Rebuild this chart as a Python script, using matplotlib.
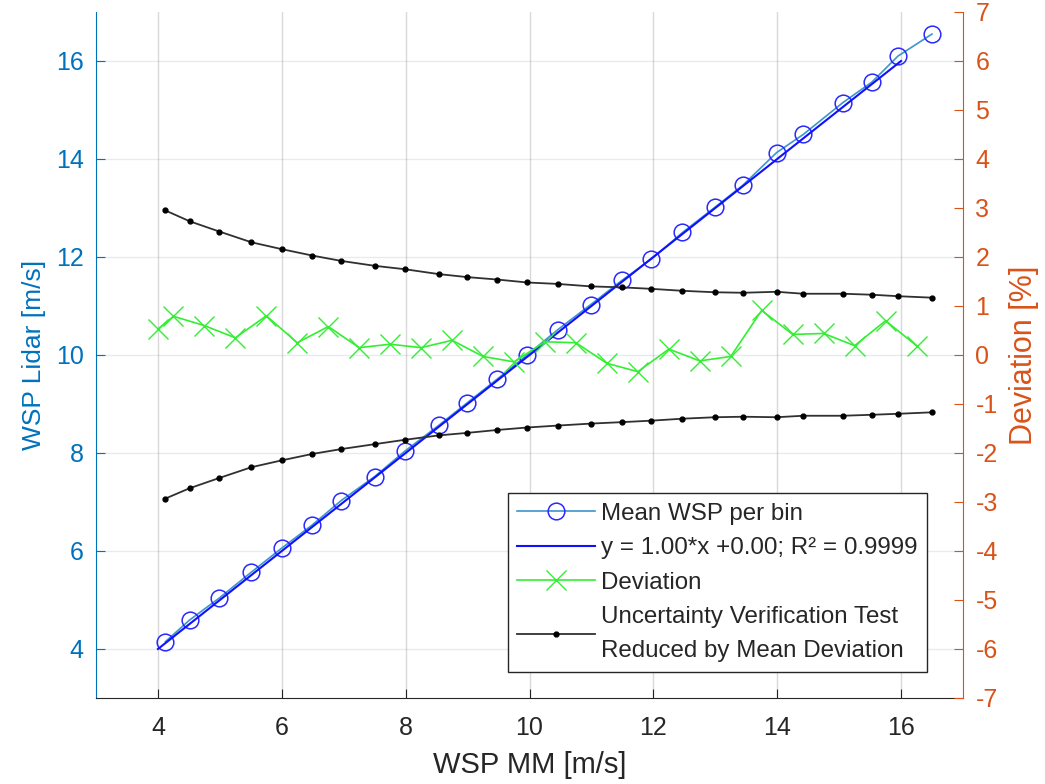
import numpy as np
import matplotlib
matplotlib.use('Agg')
import matplotlib.pyplot as plt

plt.rcParams['font.family'] = ['Liberation Sans', 'DejaVu Sans']
plt.rcParams['axes.unicode_minus'] = False

# mean wind speed per bin: mast (MM) vs lidar
wsp_mm = [4.12, 4.51, 4.99, 5.51, 6.00, 6.49, 6.96, 7.50, 7.99, 8.54, 8.99, 9.48, 9.96,
          10.46, 10.99, 11.50, 11.97, 12.47, 13.00, 13.45, 13.99, 14.42, 15.06, 15.53, 15.95, 16.50]
wsp_lidar = [4.15, 4.59, 5.04, 5.57, 6.06, 6.53, 7.03, 7.52, 8.04, 8.57, 9.02, 9.51, 10.00,
             10.52, 11.03, 11.53, 11.96, 12.50, 13.02, 13.47, 14.13, 14.50, 15.15, 15.57, 16.10, 16.55]

# linear fit y = a*x + b, drawn over the bin range
fit_a = 1.00
fit_b = 0.00
fit_r2 = 0.9999
fit_range = [4, 16]

# deviation per bin [%]
dev_x = [4.0, 4.25, 4.75, 5.25, 5.75, 6.25, 6.75, 7.25, 7.75, 8.25, 8.75, 9.25, 9.75,
         10.25, 10.75, 11.25, 11.75, 12.25, 12.75, 13.25, 13.75, 14.25, 14.75, 15.25, 15.75, 16.25]
dev = [0.53, 0.79, 0.60, 0.35, 0.80, 0.25, 0.58, 0.15, 0.22, 0.15, 0.30, -0.03, -0.14,
       0.27, 0.25, -0.17, -0.34, 0.12, -0.12, -0.03, 0.91, 0.42, 0.44, 0.19, 0.70, 0.19]

# uncertainty verification test limits, reduced by mean deviation [%]
unc_upper = [2.95, 2.73, 2.52, 2.30, 2.16, 2.03, 1.92, 1.82, 1.75, 1.65, 1.59, 1.54, 1.48,
             1.45, 1.40, 1.38, 1.35, 1.31, 1.28, 1.27, 1.29, 1.25, 1.25, 1.23, 1.20, 1.17]
unc_lower = [-2.93, -2.72, -2.51, -2.29, -2.15, -2.02, -1.92, -1.82, -1.73, -1.64, -1.59, -1.53, -1.48,
             -1.44, -1.40, -1.37, -1.34, -1.30, -1.27, -1.26, -1.27, -1.24, -1.24, -1.22, -1.20, -1.17]

c_left = '#0072BD'
c_right = '#D95319'
c_txt = '#262626'

fig = plt.figure(figsize=(10.45, 7.84), dpi=100)
ax = fig.add_axes([0.0919, 0.1097, 0.8296, 0.875])
ax2 = ax.twinx()

h1, = ax.plot(wsp_mm, wsp_lidar, '-', color='#3d95cc', lw=1.2, marker='o', ms=12,
              mfc='none', mec='#2a2aff', mew=1.1, label='Mean WSP per bin')
xf = np.array(fit_range, dtype=float)
h2, = ax.plot(xf, fit_a * xf + fit_b, '-', color='#1010ff', lw=1.5,
              label='y = %.2f*x +%.2f; R\u00b2 = %.4f' % (fit_a, fit_b, fit_r2))

h3, = ax2.plot(dev_x, dev, '-', color='#33ee33', lw=1.2, marker='x', ms=14, mew=1.0,
               label='Deviation')
h4, = ax2.plot(wsp_mm, unc_upper, '-', color='#303030', lw=1.3, marker='o', ms=3.5,
               mfc='k', mec='k',
               label='Uncertainty Verification Test\nReduced by Mean Deviation')
ax2.plot(wsp_mm, unc_lower, '-', color='#303030', lw=1.3, marker='o', ms=3.5, mfc='k', mec='k')

ax.set_xlim(3, 17)
ax.set_ylim(3, 17)
ax2.set_ylim(-7, 7)
ax.set_xticks(np.arange(4, 17, 2))
ax.set_yticks(np.arange(4, 17, 2))
ax2.set_yticks(np.arange(-7, 8, 1))

# grid: vertical grey, horizontal tinted like the left axis
ax.xaxis.grid(True, color='#d9d9d9', lw=1.0)
ax.yaxis.grid(True, color=c_left, alpha=0.12, lw=1.0)
ax.set_axisbelow(True)

for a in (ax, ax2):
    a.spines['top'].set_visible(False)
ax.spines['right'].set_visible(False)
ax2.spines['left'].set_visible(False)
ax2.spines['bottom'].set_visible(False)
ax.spines['left'].set_color(c_left)
ax.spines['bottom'].set_color(c_txt)
ax2.spines['right'].set_color(c_right)

ax.tick_params(axis='x', direction='in', length=6.5, colors=c_txt, labelsize=18, pad=13)
ax.tick_params(axis='y', direction='in', length=6.5, colors=c_left, labelsize=18, pad=9)
ax2.tick_params(axis='y', direction='in', length=6.5, colors=c_right, labelsize=18, pad=9)

ax.set_xlabel('WSP MM [m/s]', fontsize=21, color=c_txt, labelpad=8)
ax.set_ylabel('WSP Lidar [m/s]', fontsize=19, color=c_left, labelpad=7)
ax2.set_ylabel('Deviation [%]', fontsize=22, color=c_right, rotation=90, labelpad=8)

leg = ax2.legend(handles=[h1, h2, h3, h4], loc='lower right', bbox_to_anchor=(0.9585, 0.038),
                 borderaxespad=0, fontsize=17.4, handlelength=3.2, handletextpad=0.25,
                 labelspacing=0.52, borderpad=0.4, fancybox=False, framealpha=1)
leg.get_frame().set_edgecolor(c_txt)
leg.get_frame().set_linewidth(1.0)
for t in leg.get_texts():
    t.set_color(c_txt)
    t.set_linespacing(1.7)

fig.savefig('out.png', dpi=100)
